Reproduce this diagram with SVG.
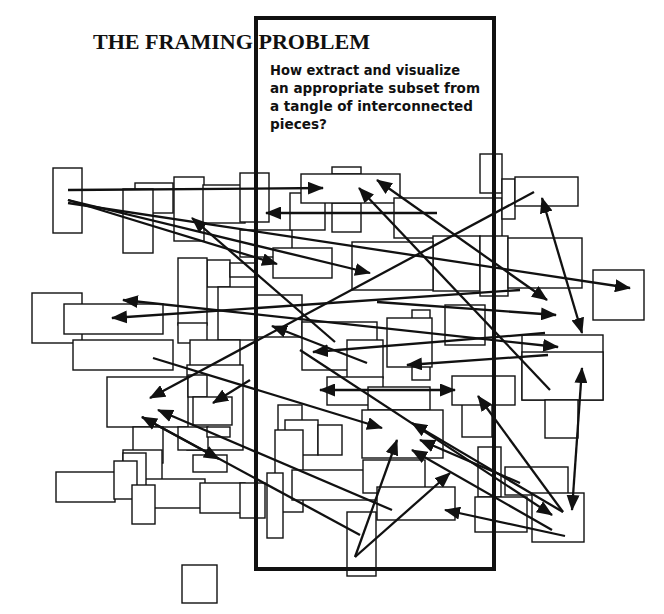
<svg xmlns="http://www.w3.org/2000/svg" width="664" height="614" viewBox="0 0 664 614">
<style>
.r rect{fill:#fff;stroke:#111;stroke-width:1.4}
.c line{stroke:#111;stroke-width:2.3;fill:none}
.a{marker-end:url(#ah)}
.d{marker-start:url(#ah);marker-end:url(#ah)}
.t{font-family:"Liberation Serif","Times New Roman",serif;font-weight:bold;font-size:20px;fill:#111}
.s{font-family:"DejaVu Sans","Liberation Sans",sans-serif;font-weight:bold;font-size:13.5px;fill:#111}
</style>
<defs>
<marker id="ah" viewBox="0 0 16 13" refX="15" refY="6.5" markerWidth="16" markerHeight="13" markerUnits="userSpaceOnUse" orient="auto-start-reverse"><path d="M0,0 L16,6.5 L0,13 z" fill="#111"/></marker>
</defs>
<rect width="664" height="614" fill="#fff"/>
<g id="nodes" class="r">
<g id="n1"><rect x="135" y="183" width="38" height="30"/></g>
<g id="n2"><rect x="123" y="189" width="30" height="64"/></g>
<g id="n3"><rect x="174" y="177" width="30" height="64"/></g>
<g id="n4"><rect x="203" y="185" width="42" height="38"/></g>
<g id="n5"><rect x="240" y="173" width="29" height="49"/></g>
<g id="n6"><rect x="53" y="168" width="29" height="65"/></g>
<g id="n7"><rect x="207" y="260" width="23" height="27"/></g>
<g id="n7b"><rect x="230" y="263" width="25" height="14"/></g>
<g id="n8"><rect x="178" y="258" width="29" height="67"/></g>
<g id="n9"><rect x="240" y="230" width="52" height="27"/></g>
<g id="n10"><rect x="273" y="248" width="59" height="30"/></g>
<g id="n11"><rect x="290" y="193" width="35" height="37"/></g>
<g id="n12"><rect x="332" y="203" width="29" height="29"/></g>
<g id="n13"><rect x="332" y="167" width="29" height="7"/></g>
<g id="n14"><rect x="301" y="174" width="99" height="29"/></g>
<g id="n15"><rect x="394" y="198" width="108" height="40"/></g>
<g id="n16"><rect x="480" y="154" width="22" height="39"/></g>
<g id="n17"><rect x="502" y="179" width="13" height="40"/></g>
<g id="n18"><rect x="515" y="177" width="63" height="29"/></g>
<g id="n19"><rect x="433" y="236" width="47" height="55"/></g>
<g id="n20"><rect x="352" y="242" width="81" height="48"/></g>
<g id="n21"><rect x="480" y="236" width="28" height="60"/></g>
<g id="n22"><rect x="508" y="238" width="74" height="50"/></g>
<g id="n23"><rect x="593" y="270" width="51" height="50"/></g>
<g id="n24"><rect x="32" y="293" width="50" height="50"/></g>
<g id="n25"><rect x="64" y="304" width="99" height="30"/></g>
<g id="n26"><rect x="73" y="340" width="100" height="30"/></g>
<g id="n27"><rect x="178" y="323" width="29" height="20"/></g>
<g id="n28"><rect x="240" y="295" width="62" height="42"/></g>
<g id="n28b"><rect x="218" y="287" width="37" height="53"/></g>
<g id="n29"><rect x="190" y="340" width="50" height="40"/></g>
<g id="n29b"><rect x="187" y="365" width="56" height="85"/></g>
<g id="n30"><rect x="107" y="377" width="81" height="50"/></g>
<g id="n30b"><rect x="188" y="375" width="19" height="22"/></g>
<g id="n31"><rect x="193" y="397" width="39" height="28"/></g>
<g id="n32"><rect x="302" y="322" width="75" height="48"/></g>
<g id="n33"><rect x="347" y="340" width="36" height="38"/></g>
<g id="n34"><rect x="412" y="310" width="18" height="70"/></g>
<g id="n35"><rect x="387" y="318" width="45" height="49"/></g>
<g id="n36"><rect x="327" y="377" width="56" height="28"/></g>
<g id="n37"><rect x="368" y="387" width="62" height="23"/></g>
<g id="n38"><rect x="362" y="410" width="81" height="48"/></g>
<g id="n39"><rect x="278" y="405" width="24" height="45"/></g>
<g id="n40"><rect x="285" y="420" width="33" height="35"/></g>
<g id="n41"><rect x="318" y="425" width="24" height="30"/></g>
<g id="n42"><rect x="445" y="305" width="40" height="40"/></g>
<g id="n43"><rect x="522" y="335" width="81" height="65"/></g>
<g id="n44"><rect x="522" y="352" width="81" height="48"/></g>
<g id="n45"><rect x="545" y="400" width="33" height="38"/></g>
<g id="n46"><rect x="462" y="403" width="30" height="34"/></g>
<g id="n47"><rect x="452" y="376" width="63" height="29"/></g>
<g id="n48"><rect x="133" y="427" width="30" height="36"/></g>
<g id="n48b"><rect x="178" y="427" width="30" height="23"/></g>
<g id="n48c"><rect x="207" y="427" width="23" height="10"/></g>
<g id="n48d"><rect x="123" y="450" width="39" height="30"/></g>
<g id="n49"><rect x="56" y="472" width="59" height="30"/></g>
<g id="n50"><rect x="145" y="479" width="60" height="29"/></g>
<g id="n51"><rect x="123" y="453" width="23" height="38"/></g>
<g id="n52"><rect x="114" y="461" width="23" height="38"/></g>
<g id="n53"><rect x="132" y="485" width="23" height="39"/></g>
<g id="n54"><rect x="193" y="455" width="34" height="17"/></g>
<g id="n55"><rect x="200" y="483" width="45" height="30"/></g>
<g id="n56"><rect x="182" y="565" width="35" height="38"/></g>
<g id="n57"><rect x="240" y="483" width="25" height="35"/></g>
<g id="n58"><rect x="275" y="430" width="28" height="82"/></g>
<g id="n59"><rect x="267" y="473" width="16" height="65"/></g>
<g id="n60"><rect x="292" y="470" width="98" height="30"/></g>
<g id="n61"><rect x="363" y="460" width="62" height="33"/></g>
<g id="n62"><rect x="377" y="487" width="78" height="33"/></g>
<g id="n63"><rect x="347" y="512" width="29" height="64"/></g>
<g id="n64"><rect x="478" y="447" width="23" height="50"/></g>
<g id="n65"><rect x="505" y="467" width="63" height="28"/></g>
<g id="n66"><rect x="475" y="497" width="52" height="35"/></g>
<g id="n67"><rect x="532" y="493" width="52" height="49"/></g>
</g>
<g id="connectors" class="c">
<line class="a" x1="68" y1="190" x2="323" y2="188"/>
<line class="a" x1="68" y1="200" x2="277" y2="264"/>
<line class="a" x1="68" y1="200" x2="370" y2="273"/>
<line class="a" x1="68" y1="203" x2="630" y2="288"/>
<line class="a" x1="437" y1="213" x2="266" y2="213"/>
<line class="a" x1="550" y1="390" x2="359" y2="188"/>
<line class="d" x1="377" y1="180" x2="547" y2="300"/>
<line class="a" x1="534" y1="192" x2="150" y2="398"/>
<line class="d" x1="542" y1="198" x2="582" y2="333"/>
<line class="a" x1="335" y1="342" x2="192" y2="218"/>
<line class="d" x1="123" y1="300" x2="558" y2="347"/>
<line class="a" x1="520" y1="290" x2="112" y2="318"/>
<line class="a" x1="377" y1="302" x2="556" y2="315"/>
<line class="a" x1="153" y1="358" x2="382" y2="428"/>
<line class="a" x1="367" y1="363" x2="272" y2="326"/>
<line class="a" x1="545" y1="333" x2="313" y2="352"/>
<line class="a" x1="548" y1="355" x2="407" y2="365"/>
<line class="d" x1="320" y1="390" x2="455" y2="390"/>
<line class="d" x1="582" y1="368" x2="572" y2="510"/>
<line class="a" x1="563" y1="512" x2="478" y2="396"/>
<line class="a" x1="563" y1="512" x2="412" y2="423"/>
<line class="a" x1="520" y1="483" x2="420" y2="440"/>
<line class="a" x1="552" y1="530" x2="412" y2="450"/>
<line class="a" x1="565" y1="536" x2="445" y2="510"/>
<line class="a" x1="300" y1="350" x2="552" y2="515"/>
<line class="a" x1="392" y1="510" x2="158" y2="410"/>
<line class="a" x1="360" y1="535" x2="142" y2="417"/>
<line class="a" x1="355" y1="557" x2="397" y2="440"/>
<line class="a" x1="355" y1="557" x2="450" y2="473"/>
<line class="a" x1="250" y1="380" x2="213" y2="403"/>
<line class="a" x1="142" y1="417" x2="219" y2="459"/>
</g>
<g id="frame"><rect x="256" y="18" width="238" height="551" fill="none" stroke="#111" stroke-width="4"/></g>
<g id="title">
<text class="t" x="93" y="49" textLength="277" lengthAdjust="spacingAndGlyphs">THE FRAMING PROBLEM</text>
<text class="s" x="270" y="75" textLength="190" lengthAdjust="spacingAndGlyphs">How extract and visualize</text>
<text class="s" x="270" y="93" textLength="210" lengthAdjust="spacingAndGlyphs">an appropriate subset from</text>
<text class="s" x="270" y="111" textLength="203" lengthAdjust="spacingAndGlyphs">a tangle of interconnected</text>
<text class="s" x="270" y="129" textLength="57" lengthAdjust="spacingAndGlyphs">pieces?</text>
</g>
</svg>
